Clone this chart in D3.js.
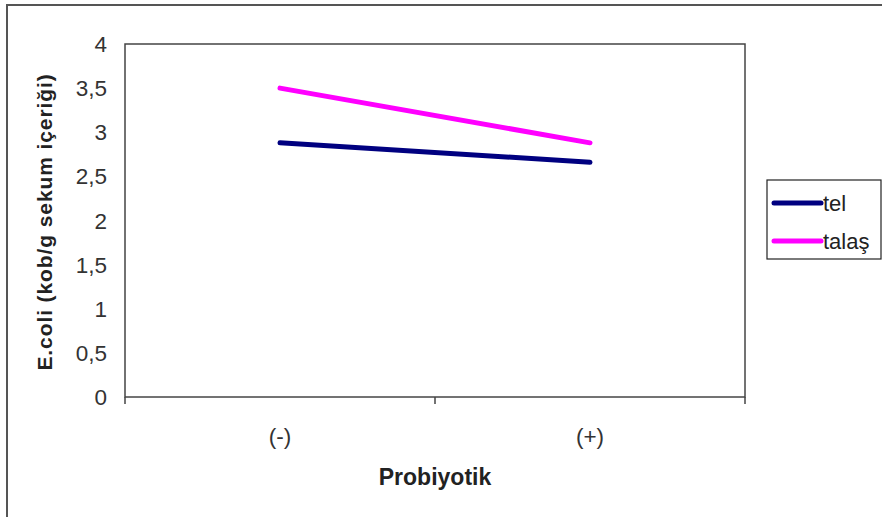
<!DOCTYPE html>
<html><head><meta charset="utf-8">
<script src="https://cdn.jsdelivr.net/npm/d3@7"></script>
<style>body{margin:0;background:#fff}svg{display:block}</style>
</head><body>
<svg id="c" width="882" height="517"></svg>
<script>
const categories = ["(-)", "(+)"];
const seriesNames = ["tel", "talaş"];
const telValues = [2.88, 2.66];
const talasValues = [3.50, 2.88];
const yTicks = [0, 0.5, 1, 1.5, 2, 2.5, 3, 3.5, 4];
const yTickLabels = ["0", "0,5", "1", "1,5", "2", "2,5", "3", "3,5", "4"];
const colors = ["#000080", "#FF00FF"];
const yTitle = "E.coli  (kob/g sekum  içeriği)";
const xTitle = "Probiyotik";

const svg = d3.select("#c");
const font = "'Liberation Sans', Arial, sans-serif";
const L = 125, T = 44, R = 745, B = 397;

svg.append("rect").attr("x", 7).attr("y", 5).attr("width", 900).attr("height", 600)
  .attr("fill", "none").attr("stroke", "#555").attr("stroke-width", 2);

const x = d3.scaleBand().domain(categories).range([L, R]).padding(0);
const y = d3.scaleLinear().domain([0, 4]).range([B, T]);

svg.append("rect").attr("x", L).attr("y", T).attr("width", R - L).attr("height", B - T)
  .attr("fill", "none").attr("stroke", "#444").attr("stroke-width", 1.5);

const edges = [L, ...categories.map(c => x(c) + x.bandwidth())];
svg.selectAll(".xt").data(edges).enter().append("line")
  .attr("x1", d => d).attr("x2", d => d).attr("y1", B).attr("y2", B + 7)
  .attr("stroke", "#444").attr("stroke-width", 1.5);

svg.selectAll(".xl").data(categories).enter().append("text")
  .attr("x", d => x(d) + x.bandwidth() / 2).attr("y", 444)
  .attr("text-anchor", "middle").attr("font-family", font).attr("font-size", 22.5)
  .attr("fill", "#333").text(d => d);

svg.selectAll(".yl").data(yTicks).enter().append("text")
  .attr("x", 107).attr("y", d => y(d) + 8)
  .attr("text-anchor", "end").attr("font-family", font).attr("font-size", 22.5)
  .attr("fill", "#333").text((d, i) => yTickLabels[i]);

svg.append("text").attr("transform", "translate(52,222) rotate(-90)")
  .attr("text-anchor", "middle").attr("font-family", font).attr("font-size", 21)
  .attr("letter-spacing", 0.9)
  .attr("font-weight", "bold").attr("fill", "#222").text(yTitle);

svg.append("text").attr("x", 435).attr("y", 485)
  .attr("text-anchor", "middle").attr("font-family", font).attr("font-size", 23)
  .attr("font-weight", "bold").attr("fill", "#222").text(xTitle);

const line = d3.line().x((d, i) => x(categories[i]) + x.bandwidth() / 2).y(d => y(d));
[telValues, talasValues].forEach((vals, k) => {
  svg.append("path").attr("d", line(vals)).attr("fill", "none")
    .attr("stroke", colors[k]).attr("stroke-width", 5).attr("stroke-linecap", "round");
});

svg.append("rect").attr("x", 767).attr("y", 180).attr("width", 114).attr("height", 79)
  .attr("fill", "#fff").attr("stroke", "#222").attr("stroke-width", 1.2);
seriesNames.forEach((n, k) => {
  const ly = 203 + k * 38;
  svg.append("line").attr("x1", 774).attr("x2", 821).attr("y1", ly).attr("y2", ly)
    .attr("stroke", colors[k]).attr("stroke-width", 5).attr("stroke-linecap", "round");
  svg.append("text").attr("x", 823).attr("y", ly + 8).attr("font-family", font)
    .attr("font-size", 22).attr("fill", "#222").text(n);
});
</script>
</body></html>
